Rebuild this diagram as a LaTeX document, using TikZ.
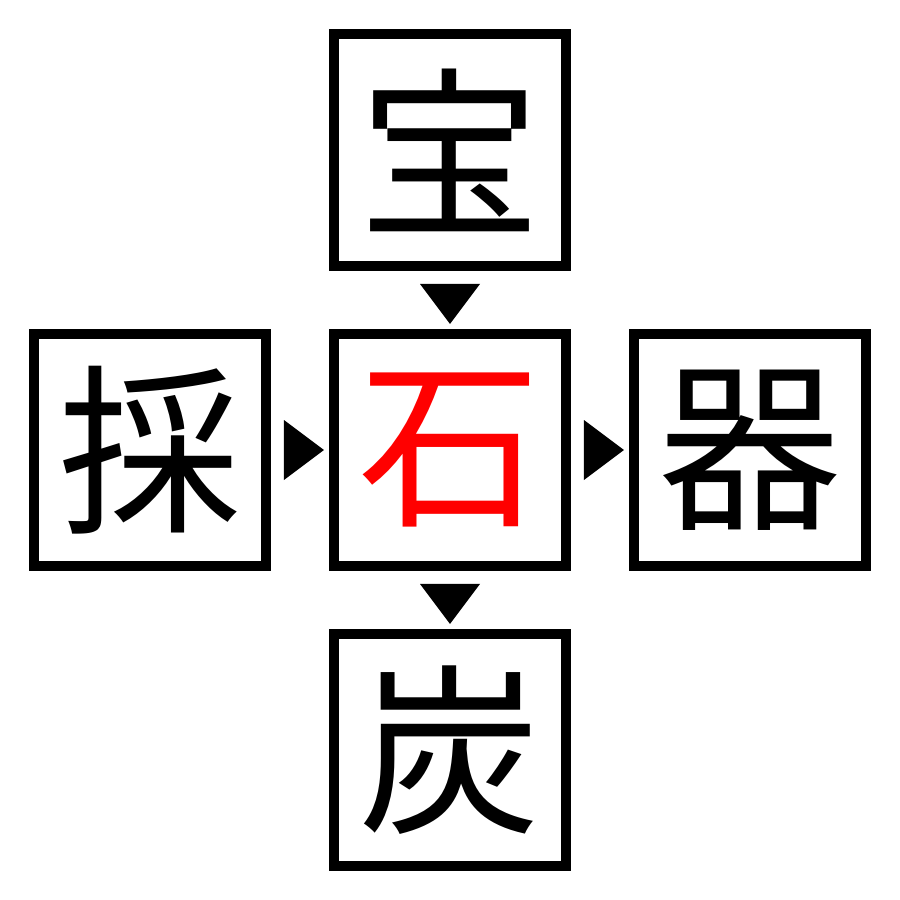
\documentclass[tikz,border=0pt]{standalone}
\usepackage{fontspec}
\usetikzlibrary{calc}
\newfontfamily\cjk{Noto Sans CJK JP}
\begin{document}
\begin{tikzpicture}[x=1cm,y=-1cm,
  box/.style={draw=black,line width=8pt*0.3514,minimum size=2.32cm,inner sep=0pt,font=\cjk\fontsize{52}{52}\selectfont},
  tri/.style={fill=black}]
\useasboundingbox (0,0) rectangle (9,9);
\node[box] (c) at (4.5,4.5) {\textcolor{red}{石}};
\node[box] (t) at (4.5,1.5) {宝};
\node[box] (l) at (1.5,4.5) {採};
\node[box] (r) at (7.5,4.5) {器};
\node[box] (b) at (4.5,7.5) {炭};
\fill[tri] ($(t.south)+(-0.3,0.13)$) -- ($(t.south)+(0.3,0.13)$) -- ($(t.south)+(0,0.53)$) -- cycle;
\fill[tri] ($(c.south)+(-0.3,0.13)$) -- ($(c.south)+(0.3,0.13)$) -- ($(c.south)+(0,0.53)$) -- cycle;
\fill[tri] ($(l.east)+(0.13,-0.3)$) -- ($(l.east)+(0.13,0.3)$) -- ($(l.east)+(0.53,0)$) -- cycle;
\fill[tri] ($(c.east)+(0.13,-0.3)$) -- ($(c.east)+(0.13,0.3)$) -- ($(c.east)+(0.53,0)$) -- cycle;
\end{tikzpicture}
\end{document}
